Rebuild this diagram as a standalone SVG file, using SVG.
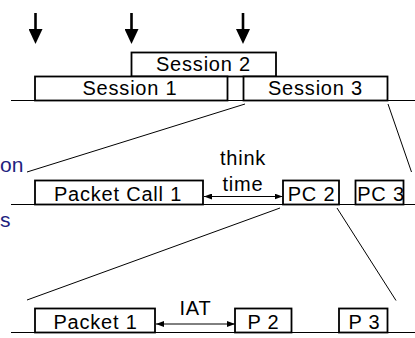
<svg xmlns="http://www.w3.org/2000/svg" width="415" height="338" viewBox="0 0 415 338">
<style>
.box{fill:#fff;stroke:#000;stroke-width:1.8}
.base{stroke:#000;stroke-width:1.2;fill:none}
.thin{stroke:#000;stroke-width:1;fill:none}
.lbl{font-family:"Liberation Sans",Arial,sans-serif;font-size:20px;letter-spacing:0.8px;fill:#000;text-anchor:middle}
.side{font-family:"Liberation Sans",Arial,sans-serif;font-size:21px;fill:#1f1f80}
.drop{stroke:#000;stroke-width:2.6;fill:none}
.dbl{stroke:#000;stroke-width:1;fill:none}
</style>
<defs>
<marker id="big" viewBox="0 0 15 14" markerWidth="15" markerHeight="14" refX="7.5" refY="7" orient="auto" markerUnits="userSpaceOnUse">
<path d="M0,0 L15,7 L0,14 z" fill="#000"/>
</marker>
<marker id="sm" viewBox="0 0 8 6" markerWidth="8" markerHeight="6" refX="8" refY="3" orient="auto-start-reverse" markerUnits="userSpaceOnUse">
<path d="M0,0 L8,3 L0,6 z" fill="#000"/>
</marker>
</defs>
<g id="connectors">
<line class="drop" x1="35.5" y1="13" x2="35.5" y2="36.5" marker-end="url(#big)"/>
<line class="drop" x1="131.5" y1="13" x2="131.5" y2="36.5" marker-end="url(#big)"/>
<line class="drop" x1="243" y1="13" x2="243" y2="36.5" marker-end="url(#big)"/>
<line class="base" x1="11" y1="100.5" x2="415" y2="100.5"/>
<line class="base" x1="11" y1="204.5" x2="415" y2="204.5"/>
<line class="base" x1="11" y1="332.5" x2="415" y2="332.5"/>
<line class="thin" x1="27" y1="172" x2="245" y2="104"/>
<line class="thin" x1="388" y1="104" x2="411.5" y2="172"/>
<line class="thin" x1="27" y1="300" x2="280" y2="208"/>
<line class="thin" x1="337" y1="208" x2="396" y2="300.5"/>
<line class="dbl" x1="204" y1="196.5" x2="282.5" y2="196.5" marker-start="url(#sm)" marker-end="url(#sm)"/>
<line class="dbl" x1="156" y1="324" x2="235" y2="324" marker-start="url(#sm)" marker-end="url(#sm)"/>
</g>
<g id="session2"><rect class="box" x="131.5" y="52.5" width="144.5" height="24"/><text class="lbl" x="203.5" y="71">Session 2</text></g>
<g id="session1"><rect class="box" x="35" y="76.5" width="192.5" height="24"/><text class="lbl" x="130" y="95">Session 1</text></g>
<g id="session3"><rect class="box" x="243.5" y="76.5" width="144" height="24"/><text class="lbl" x="315.5" y="95">Session 3</text></g>
<g id="pc1"><rect class="box" x="35" y="180.5" width="168" height="24"/><text class="lbl" x="118" y="200.5">Packet Call 1</text></g>
<g id="pc2"><rect class="box" x="283" y="180.5" width="56" height="24"/><text class="lbl" x="311.5" y="200.5">PC 2</text></g>
<g id="pc3"><rect class="box" x="355.5" y="180.5" width="48" height="24"/><text class="lbl" x="381" y="200.5">PC 3</text></g>
<g id="think"><text class="lbl" x="243" y="165">think</text><text class="lbl" x="243" y="190.5">time</text></g>
<g id="p1"><rect class="box" x="35" y="308.5" width="120" height="24"/><text class="lbl" x="95.5" y="328.5">Packet 1</text></g>
<g id="p2"><rect class="box" x="235" y="308.5" width="56.5" height="24"/><text class="lbl" x="263.5" y="328.5">P 2</text></g>
<g id="p3"><rect class="box" x="339" y="308.5" width="48.5" height="24"/><text class="lbl" x="364.5" y="328.5">P 3</text></g>
<g id="iat"><text class="lbl" x="195.5" y="315">IAT</text></g>
<g id="side"><text class="side" x="0" y="171.5">on</text><text class="side" x="0" y="227">s</text></g>
</svg>
